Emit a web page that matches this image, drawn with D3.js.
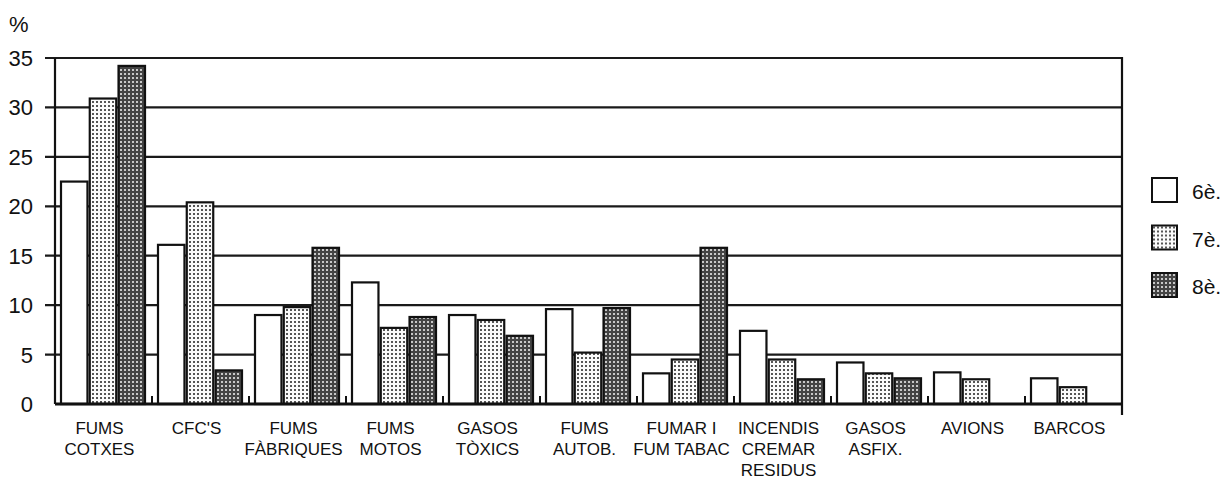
<!DOCTYPE html>
<html>
<head>
<meta charset="utf-8">
<script src="https://cdn.jsdelivr.net/npm/d3@7"></script>
<style>
	body { margin: 0; background: #fff; }
	svg text { font-family: "Liberation Sans", Arial, sans-serif; fill: #111; }
</style>
</head>
<body>
<svg id="chart" width="1227" height="479"></svg>
<script>
// ==================================
// data
// ==================================
var categories = [
	["FUMS", "COTXES"],
	["CFC'S"],
	["FUMS", "FÀBRIQUES"],
	["FUMS", "MOTOS"],
	["GASOS", "TÒXICS"],
	["FUMS", "AUTOB."],
	["FUMAR I", "FUM TABAC"],
	["INCENDIS", "CREMAR", "RESIDUS"],
	["GASOS", "ASFIX."],
	["AVIONS"],
	["BARCOS"]
];
var seriesNames = ["6è.", "7è.", "8è."];
var values6 = [22.5, 16.1, 9.0, 12.3, 9.0, 9.6, 3.1, 7.4, 4.2, 3.2, 2.6];
var values7 = [30.9, 20.4, 9.8, 7.7, 8.5, 5.2, 4.5, 4.5, 3.1, 2.5, 1.7];
var values8 = [34.2, 3.4, 15.8, 8.8, 6.9, 9.7, 15.8, 2.5, 2.6, null, null];
var yTicks = [0, 5, 10, 15, 20, 25, 30, 35];

// ==================================
// layout
// ==================================
var LEFT = 55, RIGHT = 1122, TOP = 58, BOTTOM = 404;
var svg = d3.select("#chart");

// patterns for the grades
var defs = svg.append("defs");
var p7 = defs.append("pattern").attr("id", "pat7")
	.attr("patternUnits", "userSpaceOnUse").attr("width", 4).attr("height", 4);
p7.append("rect").attr("width", 4).attr("height", 4).attr("fill", "#fafafa");
p7.append("rect").attr("x", 1).attr("y", 1).attr("width", 2).attr("height", 2).attr("fill", "#555");

var p8 = defs.append("pattern").attr("id", "pat8")
	.attr("patternUnits", "userSpaceOnUse").attr("width", 4).attr("height", 4);
p8.append("rect").attr("width", 4).attr("height", 4).attr("fill", "#444");
p8.append("rect").attr("x", 1).attr("y", 1).attr("width", 2).attr("height", 2).attr("fill", "#c8c8c8");

var fills = ["#ffffff", "url(#pat7)", "url(#pat8)"];

// scales
var x = d3.scaleBand().domain(d3.range(categories.length)).range([LEFT, RIGHT]);
var xInner = d3.scaleBand().domain(d3.range(seriesNames.length)).range([6, 90]).paddingInner(0.08);
var y = d3.scaleLinear().domain([0, 35]).range([BOTTOM, TOP]);

// gridlines + left ticks
svg.append("g").selectAll("line").data(yTicks.filter(function(d) { return d > 0; }))
	.enter().append("line")
	.attr("x1", LEFT - 10).attr("x2", RIGHT)
	.attr("y1", function(d) { return y(d); }).attr("y2", function(d) { return y(d); })
	.attr("stroke", "#1a1a1a").attr("stroke-width", 2.2);

// y axis labels
svg.append("g").selectAll("text").data(yTicks)
	.enter().append("text")
	.attr("x", 33).attr("y", function(d) { return y(d) + 8; })
	.attr("text-anchor", "end")
	.attr("font-size", "22px")
	.text(function(d) { return d; });

svg.append("text").attr("x", 9).attr("y", 32).attr("font-size", "22px").text("%");

// bars
var allValues = [values6, values7, values8];
var groups = svg.append("g").selectAll("g.cat").data(categories)
	.enter().append("g")
	.attr("class", "cat")
	.attr("transform", function(d, i) { return "translate(" + x(i) + ",0)"; });

groups.each(function(c, ci) {
	var g = d3.select(this);
	var rows = seriesNames.map(function(s, si) { return { s: si, v: allValues[si][ci] }; })
		.filter(function(d) { return d.v !== null; });
	g.selectAll("rect").data(rows).enter().append("rect")
		.attr("x", function(d) { return xInner(d.s); })
		.attr("width", xInner.bandwidth())
		.attr("y", function(d) { return y(d.v); })
		.attr("height", function(d) { return BOTTOM - y(d.v); })
		.attr("fill", function(d) { return fills[d.s]; })
		.attr("stroke", "#111")
		.attr("stroke-width", 2.2);
});

// category labels
groups.append("text")
	.attr("text-anchor", "middle")
	.attr("font-size", "17px")
	.each(function(lines) {
		var t = d3.select(this);
		lines.forEach(function(l, li) {
			t.append("tspan").attr("x", x.bandwidth() / 2 - 4).attr("y", 434 + li * 21).text(l);
		});
	});

// axes frame
svg.append("line").attr("x1", LEFT).attr("x2", LEFT).attr("y1", TOP).attr("y2", BOTTOM)
	.attr("stroke", "#111").attr("stroke-width", 2.2);
svg.append("line").attr("x1", RIGHT).attr("x2", RIGHT).attr("y1", TOP - 1).attr("y2", BOTTOM + 11)
	.attr("stroke", "#111").attr("stroke-width", 2.2);
svg.append("line").attr("x1", LEFT).attr("x2", RIGHT).attr("y1", BOTTOM).attr("y2", BOTTOM)
	.attr("stroke", "#111").attr("stroke-width", 3);

// small separators between categories
svg.append("g").selectAll("line").data(d3.range(1, categories.length))
	.enter().append("line")
	.attr("x1", function(i) { return x(i); }).attr("x2", function(i) { return x(i); })
	.attr("y1", BOTTOM - 8).attr("y2", BOTTOM)
	.attr("stroke", "#111").attr("stroke-width", 2);

// legend
var legend = svg.append("g").attr("transform", "translate(1152,178)");
var item = legend.selectAll("g").data(seriesNames).enter().append("g")
	.attr("transform", function(d, i) { return "translate(0," + (i * 47.5) + ")"; });
item.append("rect").attr("width", 25).attr("height", 24)
	.attr("fill", function(d, i) { return fills[i]; })
	.attr("stroke", "#111").attr("stroke-width", 2);
item.append("text").attr("x", 40).attr("y", 21).attr("font-size", "21px")
	.text(function(d) { return d; });
</script>
</body>
</html>
